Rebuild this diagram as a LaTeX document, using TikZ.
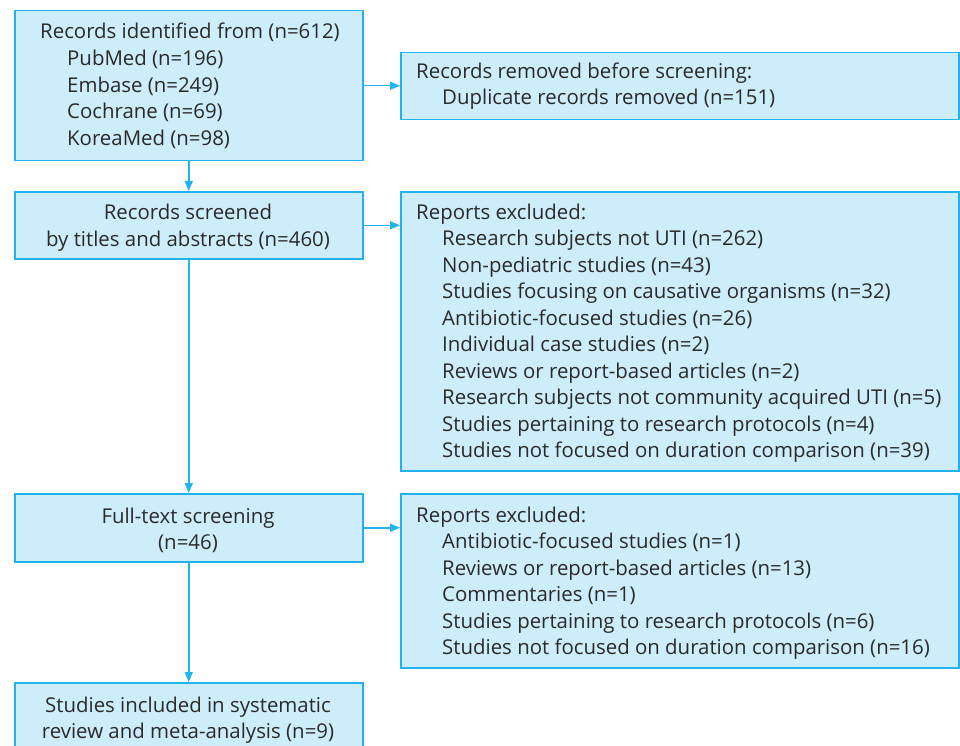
\documentclass[tikz,border=0pt]{standalone}
\usepackage{fontspec}
\setmainfont{Open Sans}
\usetikzlibrary{arrows.meta}
\definecolor{boxfill}{HTML}{CDEDFA}
\definecolor{boxline}{HTML}{22B2EE}
\definecolor{txt}{HTML}{2A2A2A}
\begin{document}
\begin{tikzpicture}[x=1pt,y=-1pt,
  box/.style={draw=boxline,fill=boxfill,line width=1.5pt,anchor=north west,inner sep=0pt},
  lbl/.style={anchor=base west,inner sep=0pt,text=txt,font=\fontsize{20.4}{24}\selectfont},
  clbl/.style={anchor=base,inner sep=0pt,text=txt,font=\fontsize{20.4}{24}\selectfont},
  arr/.style={draw=boxline,line width=1.5pt,-{Triangle[length=10pt,width=8pt]}}]
\useasboundingbox (0,0) rectangle (960,746);
% boxes
\node[box,minimum width=348pt,minimum height=150pt] (b1) at (14,10) {};
\node[box,minimum width=558pt,minimum height=67pt] (b2) at (400,52) {};
\node[box,minimum width=348pt,minimum height=67pt] (b3) at (14,191) {};
\node[box,minimum width=558pt,minimum height=279pt] (b4) at (400,191) {};
\node[box,minimum width=348pt,minimum height=68pt] (b5) at (14,493) {};
\node[box,minimum width=558pt,minimum height=174pt] (b6) at (400,493) {};
\node[box,minimum width=348pt,minimum height=80pt] (b7) at (14,682) {};
% texts box1
\node[lbl] (t11) at (40,39) {Records identified from (n=612)};
\node[lbl] (t12) at (67,66) {PubMed (n=196)};
\node[lbl] (t13) at (67,93) {Embase (n=249)};
\node[lbl] (t14) at (67,119) {Cochrane (n=69)};
\node[lbl] (t15) at (67,146) {KoreaMed (n=98)};
% box2
\node[lbl] (t21) at (416,79) {Records removed before screening:};
\node[lbl] (t22) at (442,105) {Duplicate records removed (n=151)};
% box3
\node[clbl] (t31) at (188,219) {Records screened};
\node[clbl] (t32) at (188,246) {by titles and abstracts (n=460)};
% box4
\node[lbl] (t40) at (416,219) {Reports excluded:};
\node[lbl] (t41) at (442,245.5) {Research subjects not UTI (n=262)};
\node[lbl] (t42) at (442,272) {Non-pediatric studies (n=43)};
\node[lbl] (t43) at (442,298.5) {Studies focusing on causative organisms (n=32)};
\node[lbl] (t44) at (442,325) {Antibiotic-focused studies (n=26)};
\node[lbl] (t45) at (442,351.5) {Individual case studies (n=2)};
\node[lbl] (t46) at (442,378) {Reviews or report-based articles (n=2)};
\node[lbl] (t47) at (442,404.5) {Research subjects not community acquired UTI (n=5)};
\node[lbl] (t48) at (442,431) {Studies pertaining to research protocols (n=4)};
\node[lbl] (t49) at (442,457.5) {Studies not focused on duration comparison (n=39)};
% box5
\node[clbl] (t51) at (188,523) {Full-text screening};
\node[clbl] (t52) at (188,549) {(n=46)};
% box6
\node[lbl] (t60) at (416,522) {Reports excluded:};
\node[lbl] (t61) at (442,548.5) {Antibiotic-focused studies (n=1)};
\node[lbl] (t62) at (442,575) {Reviews or report-based articles (n=13)};
\node[lbl] (t63) at (442,601.5) {Commentaries (n=1)};
\node[lbl] (t64) at (442,628) {Studies pertaining to research protocols (n=6)};
\node[lbl] (t65) at (442,654.5) {Studies not focused on duration comparison (n=16)};
% box7
\node[clbl] (t71) at (188,712) {Studies included in systematic};
\node[clbl] (t72) at (188,738) {review and meta-analysis (n=9)};
% arrows
\draw[arr] (b1.south) -- (b3.north);
\draw[arr] (b3.south) -- (b5.north);
\draw[arr] (b5.south) -- (b7.north);
\draw[arr] (b1.east) -- (b1.east -| b2.west);
\draw[arr] (b3.east) -- (b3.east -| b4.west);
\draw[arr] (b5.east) -- (b5.east -| b6.west);
\end{tikzpicture}
\end{document}
